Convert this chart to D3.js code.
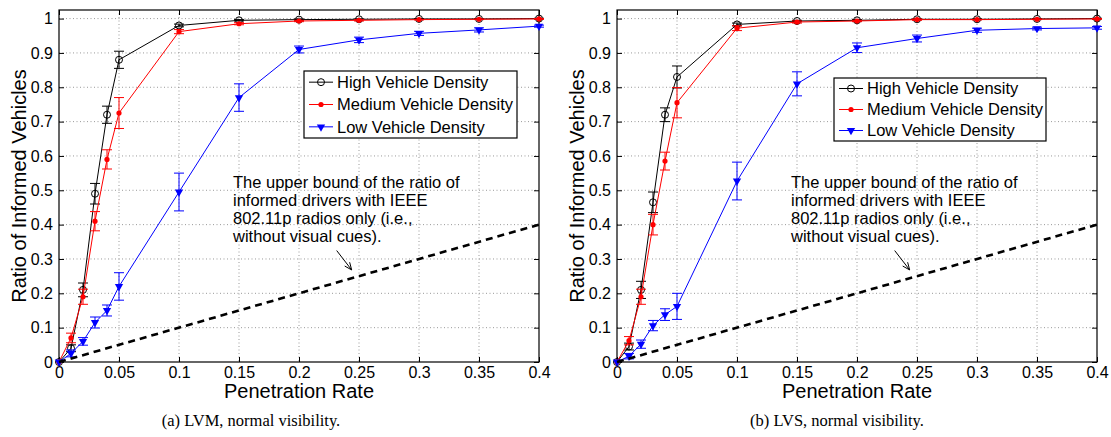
<!DOCTYPE html>
<html lang="en">
<head>
  <meta http-equiv="Content-Type" content="text/html; charset=utf-8">
  <title></title>
  <style type="text/css">
    body      { margin: 0; background: #fff; }
    svg       { display: block; font-family: "Liberation Sans", Arial, sans-serif; }
    .tick text { font-size: 16px; fill: #000; }
    .tick line { stroke: #000; }
    .grid line { stroke: #999; stroke-dasharray: 1,2.5; }
    .title    { font-size: 20px; }
    .caption  { font: 16.5px "Liberation Serif", "Times New Roman", serif; }
    .legend text, .note text { font-size: 16.5px; }
  </style>
</head>

<body>

<script src="https://cdn.jsdelivr.net/npm/d3@7/dist/d3.min.js"></script>
<script>
  //----------------------------------------------------------------------------
  var rates = [0, 0.01, 0.02, 0.03, 0.04, 0.05, 0.1, 0.15, 0.2, 0.25, 0.3, 0.35, 0.4];

  var xTicks = [0, 0.05, 0.1, 0.15, 0.2, 0.25, 0.3, 0.35, 0.4];
  var xTickLabels = ["0", "0.05", "0.1", "0.15", "0.2", "0.25", "0.3", "0.35", "0.4"];
  var yTicks = [0, 0.1, 0.2, 0.3, 0.4, 0.5, 0.6, 0.7, 0.8, 0.9, 1];
  var yTickLabels = ["0", "0.1", "0.2", "0.3", "0.4", "0.5", "0.6", "0.7", "0.8", "0.9", "1"];

  var seriesNames = ["High Vehicle Density", "Medium Vehicle Density", "Low Vehicle Density"];

  // (a) LVM
  var lvmHigh    = [0, 0.04, 0.21, 0.49, 0.72, 0.88, 0.98, 0.995, 0.997, 0.998, 0.999, 0.999, 1.0];
  var lvmHighErr = [0, 0.01, 0.02, 0.03, 0.025, 0.025, 0.004, 0.002, 0.002, 0.001, 0.001, 0.001, 0.001];
  var lvmMed     = [0, 0.07, 0.19, 0.41, 0.59, 0.725, 0.962, 0.985, 0.993, 0.995, 0.997, 0.998, 0.999];
  var lvmMedErr  = [0, 0.014, 0.022, 0.028, 0.028, 0.045, 0.006, 0.003, 0.002, 0.002, 0.001, 0.001, 0.001];
  var lvmLow     = [0, 0.025, 0.06, 0.115, 0.15, 0.22, 0.495, 0.77, 0.91, 0.938, 0.957, 0.967, 0.978];
  var lvmLowErr  = [0, 0.01, 0.011, 0.016, 0.016, 0.04, 0.055, 0.04, 0.01, 0.008, 0.006, 0.006, 0.003];

  // (b) LVS
  var lvsHigh    = [0, 0.045, 0.21, 0.465, 0.72, 0.83, 0.983, 0.993, 0.995, 0.998, 0.998, 0.999, 1.0];
  var lvsHighErr = [0, 0.01, 0.025, 0.03, 0.02, 0.032, 0.004, 0.002, 0.002, 0.001, 0.001, 0.001, 0.001];
  var lvsMed     = [0, 0.062, 0.19, 0.40, 0.585, 0.755, 0.972, 0.99, 0.993, 0.997, 0.997, 0.998, 0.999];
  var lvsMedErr  = [0, 0.012, 0.022, 0.03, 0.026, 0.044, 0.007, 0.003, 0.002, 0.002, 0.001, 0.001, 0.001];
  var lvsLow     = [0, 0.017, 0.052, 0.106, 0.138, 0.162, 0.527, 0.81, 0.915, 0.942, 0.966, 0.971, 0.973];
  var lvsLowErr  = [0, 0.008, 0.012, 0.015, 0.017, 0.038, 0.055, 0.035, 0.014, 0.01, 0.006, 0.004, 0.004];

  // upper bound with 802.11p radios only
  var boundX = [0, 0.4];
  var boundY = [0, 0.4];

  var noteLines = ["The upper bound of the ratio of", "informed drivers with IEEE",
                   "802.11p radios only (i.e.,", "without visual cues)."];

  var width = 1111;
  var height = 437;

  var panels = [
    { left: 59, caption: "(a) LVM, normal visibility.", capX: 251,
      series: [[lvmHigh, lvmHighErr], [lvmMed, lvmMedErr], [lvmLow, lvmLowErr]],
      legend: { x: 304, y: 71, w: 213, h: 67 } },
    { left: 617, caption: "(b) LVS, normal visibility.", capX: 837,
      series: [[lvsHigh, lvsHighErr], [lvsMed, lvsMedErr], [lvsLow, lvsLowErr]],
      legend: { x: 834, y: 78, w: 212, h: 63 } }
  ];

  var colors = ["#000", "#f00", "#00f"];
  var plotTop = 10, plotBottom = 362, plotW = 480;

  var svg = d3.select("body")
    .append("svg")
      .attr("width", width)
      .attr("height", height);

  function drawMarker(sel, k) {
    if (k === 0) {
      sel.append("circle").attr("r", 3.5)
        .attr("fill", "none").attr("stroke", colors[k]).attr("stroke-width", 1);
    } else if (k === 1) {
      sel.append("circle").attr("r", 2.6).attr("fill", colors[k]);
    } else {
      sel.append("path")
        .attr("d", d3.symbol().type(d3.symbolTriangle).size(30)())
        .attr("transform", "rotate(180)")
        .attr("fill", colors[k]);
    }
  }

  panels.forEach(function(p) {
    var x = d3.scaleLinear().domain([0, 0.4]).range([p.left, p.left + plotW]);
    var y = d3.scaleLinear().domain([0, 1.025]).range([plotBottom, plotTop]);
    var g = svg.append("g");

    // grid
    var grid = g.append("g").attr("class", "grid");
    grid.selectAll(".gx").data(xTicks.slice(1, -1)).enter().append("line")
      .attr("x1", function(d) { return x(d); }).attr("x2", function(d) { return x(d); })
      .attr("y1", plotTop).attr("y2", plotBottom);
    grid.selectAll(".gy").data(yTicks.slice(1)).enter().append("line")
      .attr("x1", p.left).attr("x2", p.left + plotW)
      .attr("y1", function(d) { return y(d); }).attr("y2", function(d) { return y(d); });

    // axes, ticks pointing inside
    g.append("g").attr("transform", "translate(0," + plotBottom + ")")
      .call(d3.axisBottom(x).tickValues(xTicks).tickSize(-5).tickPadding(5)
        .tickFormat(function(d, i) { return xTickLabels[i]; }))
      .call(function(a) { a.select(".domain").remove(); });
    g.append("g").attr("transform", "translate(0," + plotTop + ")")
      .call(d3.axisTop(x).tickValues(xTicks).tickSize(-5).tickFormat(""))
      .call(function(a) { a.select(".domain").remove(); });
    g.append("g").attr("transform", "translate(" + p.left + ",0)")
      .call(d3.axisLeft(y).tickValues(yTicks).tickSize(-5).tickPadding(6)
        .tickFormat(function(d, i) { return yTickLabels[i]; }))
      .call(function(a) { a.select(".domain").remove(); });
    g.append("g").attr("transform", "translate(" + (p.left + plotW) + ",0)")
      .call(d3.axisRight(y).tickValues(yTicks).tickSize(-5).tickFormat(""))
      .call(function(a) { a.select(".domain").remove(); });
    g.selectAll(".tick text").attr("font-family", null).attr("font-size", null);

    g.append("rect")
      .attr("x", p.left).attr("y", plotTop).attr("width", plotW).attr("height", plotBottom - plotTop)
      .attr("fill", "none").attr("stroke", "#000").attr("stroke-width", 1.2);

    // series with error bars
    var line = d3.line().x(function(d) { return x(d[0]); }).y(function(d) { return y(d[1]); });
    p.series.forEach(function(s, k) {
      var pts = rates.map(function(r, i) { return [r, s[0][i], s[1][i]]; });
      var sg = g.append("g").attr("stroke", colors[k]).attr("fill", "none");
      sg.append("path").attr("d", line(pts)).attr("stroke-width", 1);
      var eb = sg.selectAll(".eb").data(pts.filter(function(d) { return d[2] > 0; })).enter().append("g");
      eb.append("line")
        .attr("x1", function(d) { return x(d[0]); }).attr("x2", function(d) { return x(d[0]); })
        .attr("y1", function(d) { return y(d[1] - d[2]); }).attr("y2", function(d) { return y(d[1] + d[2]); });
      [-1, 1].forEach(function(sgn) {
        eb.append("line")
          .attr("x1", function(d) { return x(d[0]) - 5; }).attr("x2", function(d) { return x(d[0]) + 5; })
          .attr("y1", function(d) { return y(d[1] + sgn * d[2]); })
          .attr("y2", function(d) { return y(d[1] + sgn * d[2]); });
      });
      var mk = g.selectAll(".mk" + k).data(pts).enter().append("g")
        .attr("transform", function(d) { return "translate(" + x(d[0]) + "," + y(d[1]) + ")"; });
      drawMarker(mk, k);
    });

    // dashed upper bound
    g.append("path")
      .attr("d", line(boundX.map(function(v, i) { return [v, boundY[i]]; })))
      .attr("stroke", "#000").attr("stroke-width", 2.6).attr("stroke-dasharray", "7,5")
      .attr("fill", "none");

    // annotation + arrow
    var note = g.append("g").attr("class", "note");
    note.selectAll("text").data(noteLines).enter().append("text")
      .attr("x", x(0.145))
      .attr("y", function(d, i) { return y(0.507) + i * 18.2; })
      .text(function(d) { return d; });
    var ax0 = x(0.2314), ay0 = y(0.3245), ax1 = x(0.2439), ay1 = y(0.268);
    var ang = Math.atan2(ay1 - ay0, ax1 - ax0);
    note.append("line").attr("x1", ax0).attr("y1", ay0).attr("x2", ax1).attr("y2", ay1)
      .attr("stroke", "#000");
    note.append("path")
      .attr("d", "M" + (ax1 - 8 * Math.cos(ang - 0.4)) + "," + (ay1 - 8 * Math.sin(ang - 0.4)) +
                 "L" + ax1 + "," + ay1 +
                 "L" + (ax1 - 8 * Math.cos(ang + 0.4)) + "," + (ay1 - 8 * Math.sin(ang + 0.4)))
      .attr("stroke", "#000").attr("fill", "none");

    // legend
    var L = p.legend;
    var lg = g.append("g").attr("class", "legend");
    lg.append("rect").attr("x", L.x).attr("y", L.y).attr("width", L.w).attr("height", L.h)
      .attr("fill", "#fff").attr("stroke", "#000").attr("stroke-width", 1.2);
    seriesNames.forEach(function(name, k) {
      var ry = L.y + L.h / 6 + k * L.h / 3;
      lg.append("line").attr("x1", L.x + 5).attr("x2", L.x + 29).attr("y1", ry).attr("y2", ry)
        .attr("stroke", colors[k]);
      drawMarker(lg.append("g").attr("transform", "translate(" + (L.x + 17) + "," + ry + ")"), k);
      lg.append("text").attr("x", L.x + 33).attr("y", ry).attr("dy", "0.35em").text(name);
    });

    // titles
    g.append("text").attr("class", "title")
      .attr("x", p.left + plotW / 2).attr("y", 398).attr("text-anchor", "middle")
      .text("Penetration Rate");
    g.append("text").attr("class", "title")
      .attr("transform", "translate(" + (p.left - 33) + "," + ((plotTop + plotBottom) / 2) + ") rotate(-90)")
      .attr("text-anchor", "middle")
      .text("Ratio of Informed Vehicles");
    g.append("text").attr("class", "caption")
      .attr("x", p.capX).attr("y", 426).attr("text-anchor", "middle")
      .text(p.caption);
  });

  //----------------------------------------------------------------------------
</script>

</body>
</html>
